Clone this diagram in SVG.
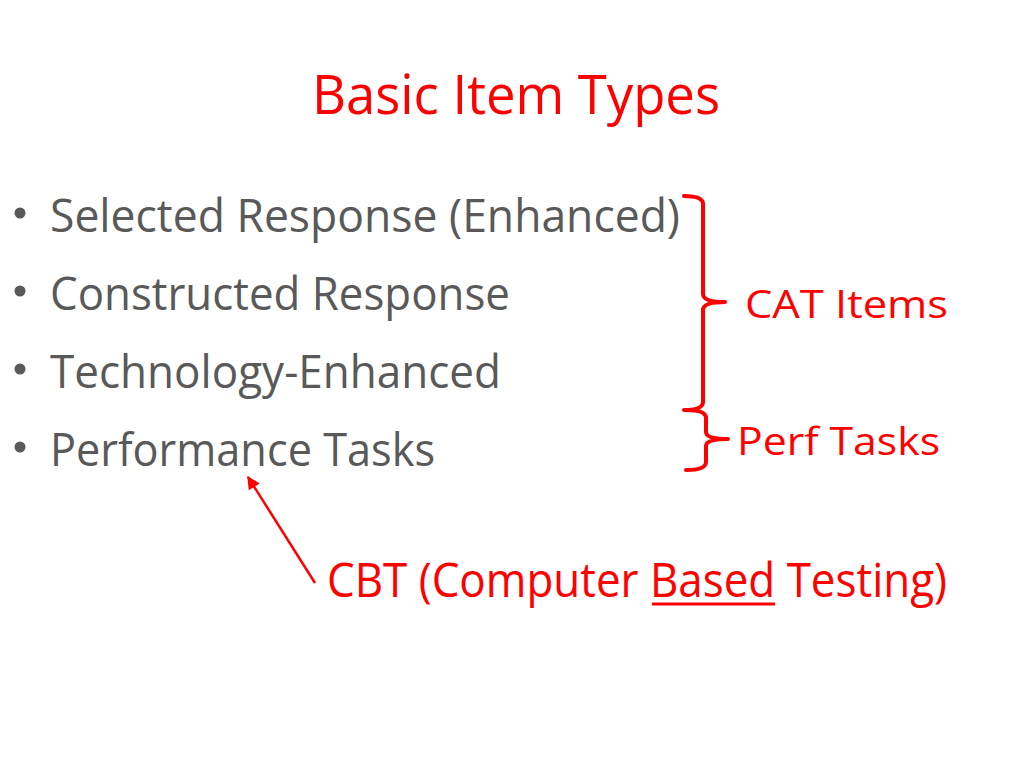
<svg xmlns="http://www.w3.org/2000/svg" width="1024" height="768" viewBox="0 0 1024 768">
<style>
.t{font-family:"Open Sans","Liberation Sans",sans-serif;}
.red{fill:#FF0000;}
.gray{fill:#595959;}
.br{fill:none;stroke:#FF0000;stroke-width:4;stroke-linejoin:round;stroke-linecap:round;}
.dot{fill:#595959;}
</style>
<defs>
<marker id="ah" viewBox="0 0 10 10" refX="9" refY="5" markerWidth="15" markerHeight="13" orient="auto" markerUnits="userSpaceOnUse">
<path d="M0,0 L10,5 L0,10 z" fill="#FF0000"/>
</marker>
</defs>
<rect width="1024" height="768" fill="#FFFFFF"/>
<g id="title">
<text class="t red" x="312" y="114" font-size="54" textLength="408" lengthAdjust="spacingAndGlyphs">Basic Item Types</text>
</g>
<g id="bullets">
<circle class="dot" cx="20" cy="213" r="5.5"/>
<circle class="dot" cx="20" cy="291" r="5.5"/>
<circle class="dot" cx="20" cy="369" r="5.5"/>
<circle class="dot" cx="20" cy="447" r="5.5"/>
<text class="t gray" x="50" y="232" font-size="46" textLength="630" lengthAdjust="spacingAndGlyphs">Selected Response (Enhanced)</text>
<text class="t gray" x="50" y="310" font-size="46" textLength="460" lengthAdjust="spacingAndGlyphs">Constructed Response</text>
<text class="t gray" x="50" y="388" font-size="46" textLength="451" lengthAdjust="spacingAndGlyphs">Technology-Enhanced</text>
<text class="t gray" x="50" y="466" font-size="46" textLength="385" lengthAdjust="spacingAndGlyphs">Performance Tasks</text>
</g>
<g id="cat-items">
<path class="br" d="M684,196 Q703,196 703,204 L703,294 Q703,302 725,302 Q703,302 703,310 L703,402 Q703,410 684,410"/>
<text class="t red" x="745" y="318" font-size="38" textLength="203" lengthAdjust="spacingAndGlyphs">CAT Items</text>
</g>
<g id="perf-tasks">
<path class="br" d="M686,410 Q706,410 706,418 L706,432 Q706,439 728,439 Q706,439 706,446 L706,462 Q706,470 686,470"/>
<text class="t red" x="737" y="455" font-size="38" textLength="203" lengthAdjust="spacingAndGlyphs">Perf Tasks</text>
</g>
<g id="cbt">
<text class="t red" x="327" y="597" font-size="47" textLength="620" lengthAdjust="spacingAndGlyphs">CBT (Computer Based Testing)</text>
<line x1="652" y1="604" x2="775" y2="604" stroke="#FF0000" stroke-width="3"/>
</g>
<g id="connectors">
<line x1="315" y1="583" x2="248" y2="477" stroke="#FF0000" stroke-width="2.5" marker-end="url(#ah)"/>
</g>
</svg>
